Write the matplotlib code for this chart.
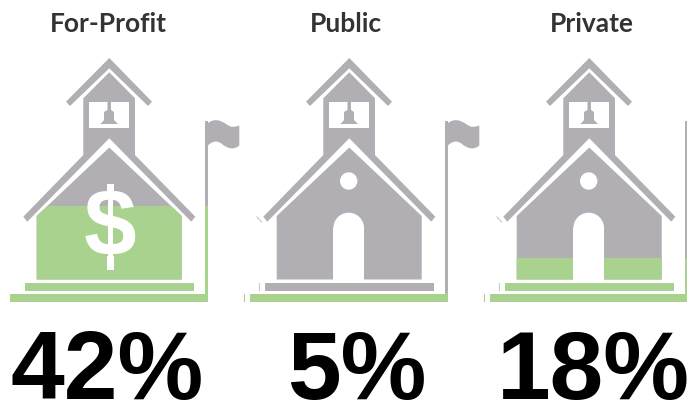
import matplotlib
matplotlib.use('Agg')
import matplotlib.pyplot as plt
from matplotlib.patches import Polygon, Rectangle, Circle, PathPatch
from matplotlib.path import Path

names = ['For-Profit', 'Public', 'Private']
percents = ['42%', '5%', '18%']
# share of the school height that is green
fill_levels = [0.395, 0.035, 0.18]

GREY = '#B1AFB3'
GREEN = '#A9D28F'

# text centres, they do not sit evenly under the schools
name_x = [108, 346, 592]
pct_x = [107, 357, 593]

fig = plt.figure(figsize=(6.87, 4.05), dpi=100)
ax = fig.add_axes([0, 0, 1, 1])
ax.set_xlim(0, 687)
ax.set_ylim(405, 0)
ax.axis('off')


def body_shapes(x0):
    # pieces that take the green fill
    body = [(x0 + 36.7, 279.5), (x0 + 36.7, 216), (x0 + 109.3, 147.5), (x0 + 181.7, 216), (x0 + 181.7, 279.5)]
    step = [(x0 + 25, 283), (x0 + 194, 283), (x0 + 194, 290.7), (x0 + 25, 290.7)]
    ground = [(x0 + 10, 294), (x0 + 208, 294), (x0 + 208, 301.7), (x0 + 10, 301.7)]
    pole = [(x0 + 205, 121), (x0 + 207.7, 121), (x0 + 207.7, 294), (x0 + 205, 294)]
    return [body, step, ground, pole]


def draw_school(x0, level, i):
    # tower roof
    ax.add_patch(Polygon([(x0 + 109.3, 58), (x0 + 152, 101.7), (x0 + 148, 106), (x0 + 109.3, 68.3),
                          (x0 + 70, 106), (x0 + 66, 101.7)], fc=GREY, ec='none'))
    # tower and main roof as one piece
    ax.add_patch(Polygon([(x0 + 83.3, 98.3), (x0 + 109.3, 72.3), (x0 + 135, 98.3), (x0 + 135, 155),
                          (x0 + 195.3, 216.7), (x0 + 191.3, 221.7), (x0 + 109.3, 138.3),
                          (x0 + 27.3, 221.7), (x0 + 23.3, 216.7), (x0 + 83.3, 155)], fc=GREY, ec='none'))
    # bell window
    ax.add_patch(Rectangle((x0 + 89, 102), 40.3, 25.7, fc='white', ec='none', zorder=2))
    bell = Path([(x0 + 107.5, 102), (x0 + 111, 102), (x0 + 111, 110), (x0 + 114, 112),
                 (x0 + 114, 120), (x0 + 117, 123), (x0 + 118, 124), (x0 + 100, 124),
                 (x0 + 101.5, 123), (x0 + 104, 120), (x0 + 104, 112), (x0 + 107.5, 110), (x0 + 107.5, 102)])
    ax.add_patch(PathPatch(bell, fc=GREY, ec='none', zorder=3))

    # grey pieces, then the same pieces in green cut off at the fill height
    fill_y = 302 - level * 244
    for shape in body_shapes(x0):
        ax.add_patch(Polygon(shape, fc=GREY, ec='none', zorder=1))
        p = Polygon(shape, fc=GREEN, ec='none', zorder=1.5)
        ax.add_patch(p)
        p.set_clip_path(Rectangle((x0, fill_y), 240, 302 - fill_y, transform=ax.transData))

    # flag
    verts = [(x0 + 207.5, 123.5),
             (x0 + 214, 118), (x0 + 220, 120), (x0 + 226, 124),
             (x0 + 231, 128), (x0 + 235, 127), (x0 + 239.3, 125.5),
             (x0 + 239.3, 145.5),
             (x0 + 234, 150), (x0 + 228, 149), (x0 + 222, 144),
             (x0 + 217, 140), (x0 + 212, 141), (x0 + 207.5, 146),
             (x0 + 207.5, 123.5)]
    codes = [Path.MOVETO, Path.CURVE4, Path.CURVE4, Path.CURVE4, Path.CURVE4, Path.CURVE4, Path.CURVE4,
             Path.LINETO, Path.CURVE4, Path.CURVE4, Path.CURVE4, Path.CURVE4, Path.CURVE4, Path.CURVE4,
             Path.CLOSEPOLY]
    ax.add_patch(PathPatch(Path(verts, codes), fc=GREY, ec='none', zorder=1))

    if i == 0:
        ax.text(x0 + 110, 230, '$', color='white', fontsize=68, fontweight='bold', family='Liberation Sans',
                ha='center', va='center', zorder=4)
        # the bar of the dollar sign reaches further out than the font's
        ax.add_patch(Rectangle((x0 + 106.5, 184), 7.6, 12, fc='white', ec='none', zorder=4))
        ax.add_patch(Rectangle((x0 + 106.5, 256), 7.6, 14, fc='white', ec='none', zorder=4))
    else:
        ax.add_patch(Circle((x0 + 108.7, 181), 8.7, fc='white', ec='none', zorder=3))
        ax.add_patch(Circle((x0 + 108.7, 228), 15.3, fc='white', ec='none', zorder=3))
        ax.add_patch(Rectangle((x0 + 93.4, 228), 30.6, 53, fc='white', ec='none', zorder=3))
        # small stray marks in the original artwork
        ax.plot([x0 + 4.3, x0 + 4.3], [294, 301], color=GREEN, lw=0.8)
        ax.plot([x0 + 19.3, x0 + 19.3], [283, 290], color='#C8C7CA', lw=0.8)
        ax.plot([x0 + 17, x0 + 21.5], [217, 222], color='#C8C7CA', lw=0.8)


for i in range(3):
    draw_school(i * 240, fill_levels[i], i)
    ax.text(name_x[i], 23.5, names[i], fontsize=19, fontweight='bold', family='Lato', color='#333333',
            ha='center', va='center')
    ax.text(pct_x[i], 373.5, percents[i], fontsize=69.5, fontweight='bold', family='Liberation Sans',
            color='black', ha='center', va='center')

fig.savefig('out.png', dpi=100)
